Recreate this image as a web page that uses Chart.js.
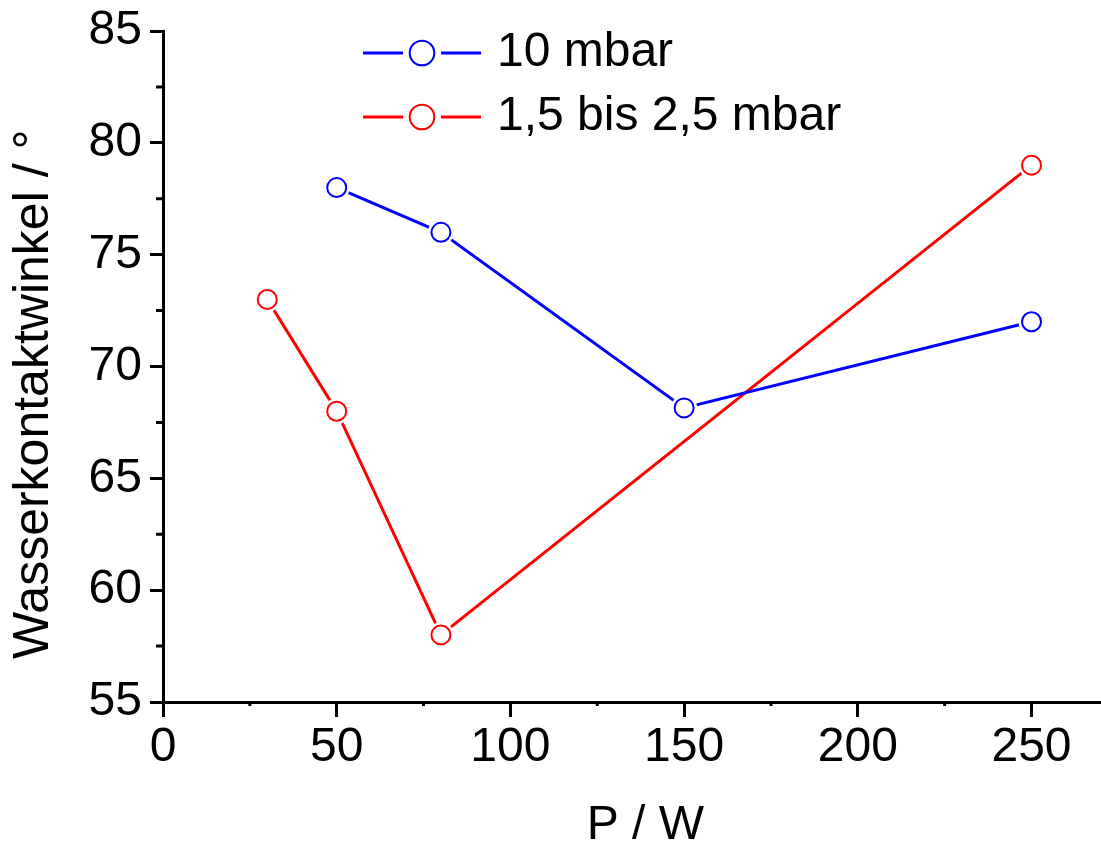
<!DOCTYPE html>
<html><head><meta charset="utf-8">
<script src="https://cdn.jsdelivr.net/npm/chart.js@4/dist/chart.umd.min.js"></script>
<style>html,body{margin:0;padding:0;background:#fff;overflow:hidden}canvas{display:block}</style>
</head><body>
<canvas id="c" width="1101" height="850"></canvas>
<script>
// ---- data ----
const seriesNames = ['10 mbar', '1,5 bis 2,5 mbar'];
const powerBlue = [50, 80, 150, 250];
const angleBlue = [78, 76, 68.15, 72];
const powerRed = [30, 50, 80, 250];
const angleRed = [73, 68, 58, 79];
const xTickValues = [0, 50, 100, 150, 200, 250];
const yTickValues = [55, 60, 65, 70, 75, 80, 85];
const xMinorValues = [25, 75, 125, 175, 225];
const yMinorValues = [57.5, 62.5, 67.5, 72.5, 77.5, 82.5];
const xTitle = 'P / W';
const yTitle = 'Wasserkontaktwinkel / °';

const FONT = "'Liberation Sans', Arial, Helvetica, sans-serif";
const BLUE = '#0000ff';
const RED = '#ff0000';

function pts(xs, ys) { return xs.map((x, i) => ({x: x, y: ys[i]})); }

function legendImage(color) {
  const c = document.createElement('canvas');
  c.width = 118; c.height = 30;
  const g = c.getContext('2d');
  g.strokeStyle = color; g.lineWidth = 3;
  g.beginPath(); g.moveTo(0, 15); g.lineTo(40, 15); g.moveTo(78, 15); g.lineTo(118, 15); g.stroke();
  g.lineWidth = 2; g.fillStyle = '#fff';
  g.beginPath(); g.arc(59, 15, 12.3, 0, Math.PI * 2); g.fill(); g.stroke();
  return c;
}

const minorTicks = {
  id: 'minorTicks',
  afterDraw(chart) {
    const ctx = chart.ctx, xs = chart.scales.x, ys = chart.scales.y;
    ctx.save();
    ctx.strokeStyle = '#000'; ctx.lineWidth = 3;
    ctx.beginPath();
    xMinorValues.forEach(v => { const p = xs.getPixelForValue(v); ctx.moveTo(p, ys.bottom); ctx.lineTo(p, ys.bottom + 4); });
    yMinorValues.forEach(v => { const p = ys.getPixelForValue(v); ctx.moveTo(xs.left - 7, p); ctx.lineTo(xs.left, p); });
    ctx.stroke();
    ctx.restore();
  }
};

const legendPlace = {
  id: 'legendPlace',
  afterLayout(chart) {
    const lg = chart.legend;
    if (!lg) return;
    lg.left = 355; lg.top = 13; lg.bottom = 700;
  }
};

new Chart(document.getElementById('c'), {
  type: 'scatter',
  data: {
    datasets: [
      {label: seriesNames[0], data: pts(powerBlue, angleBlue), showLine: true, borderColor: BLUE, borderWidth: 3, pointRadius: 0, order: 3},
      {label: seriesNames[1], data: pts(powerRed, angleRed), showLine: true, borderColor: RED, borderWidth: 3, pointRadius: 0, order: 3},
      {label: 'maskB', data: pts(powerBlue, angleBlue), showLine: false, pointRadius: 13, pointHoverRadius: 13, pointBorderWidth: 0, pointBackgroundColor: '#fff', pointBorderColor: '#fff', order: 2},
      {label: 'maskR', data: pts(powerRed, angleRed), showLine: false, pointRadius: 13, pointHoverRadius: 13, pointBorderWidth: 0, pointBackgroundColor: '#fff', pointBorderColor: '#fff', order: 2},
      {label: 'ptsB', data: pts(powerBlue, angleBlue), showLine: false, pointRadius: 9.5, pointHoverRadius: 9.5, pointBorderWidth: 2, pointBackgroundColor: '#fff', pointBorderColor: BLUE, order: 1},
      {label: 'ptsR', data: pts(powerRed, angleRed), showLine: false, pointRadius: 9.5, pointHoverRadius: 9.5, pointBorderWidth: 2, pointBackgroundColor: '#fff', pointBorderColor: RED, order: 1}
    ]
  },
  options: {
    responsive: false,
    animation: false,
    devicePixelRatio: 1,
    layout: {autoPadding: false, padding: {top: 31, right: 0, bottom: 0, left: 0}},
    scales: {
      x: {
        type: 'linear', position: 'bottom', min: 0, max: 270,
        afterBuildTicks: s => { s.ticks = xTickValues.map(v => ({value: v})); },
        afterFit: s => { s.height = 148; s.paddingLeft = 0; s.paddingRight = 0; },
        border: {display: true, color: '#000', width: 3},
        grid: {drawOnChartArea: false, drawTicks: true, tickLength: 15, tickWidth: 3, tickColor: '#000'},
        ticks: {color: '#000', font: {family: FONT, size: 48, lineHeight: 1.2}, padding: 2, maxRotation: 0, autoSkip: false},
        title: {display: true, text: '  ' + xTitle, color: '#000', font: {family: FONT, size: 48, lineHeight: 1}, padding: {top: -5, bottom: 0}}
      },
      y: {
        type: 'linear', position: 'left', min: 55, max: 85,
        afterBuildTicks: s => { s.ticks = yTickValues.map(v => ({value: v})); },
        afterFit: s => { s.width = 163; s.paddingTop = 0; s.paddingBottom = 0; },
        border: {display: true, color: '#000', width: 3},
        grid: {drawOnChartArea: false, drawTicks: true, tickLength: 13, tickWidth: 3, tickColor: '#000'},
        ticks: {color: '#000', font: {family: FONT, size: 48, lineHeight: 1.2}, padding: 8, autoSkip: false},
        title: {display: true, text: yTitle + '    ', color: '#000', font: {family: FONT, size: 50, lineHeight: 1}, padding: {top: 9, bottom: 0}}
      }
    },
    plugins: {
      tooltip: {enabled: false},
      legend: {
        position: 'chartArea', align: 'start',
        labels: {
          usePointStyle: true, pointStyleWidth: 102, padding: 16, color: '#000',
          font: {family: FONT, size: 48},
          generateLabels: chart => [
            {text: seriesNames[0], pointStyle: legendImage(BLUE), fontColor: '#000', datasetIndex: 0, hidden: false, lineWidth: 0, strokeStyle: BLUE, fillStyle: '#fff'},
            {text: seriesNames[1], pointStyle: legendImage(RED), fontColor: '#000', datasetIndex: 1, hidden: false, lineWidth: 0, strokeStyle: RED, fillStyle: '#fff'}
          ]
        }
      }
    }
  },
  plugins: [minorTicks, legendPlace]
});
</script>
</body></html>
